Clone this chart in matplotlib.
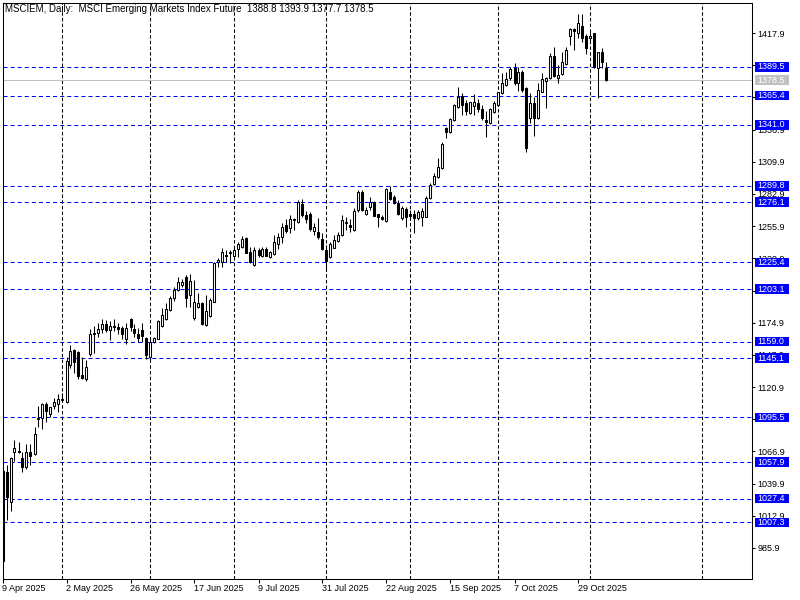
"""
Daily candlestick chart of the MSCI Emerging Markets Index Future,
drawn in the MetaTrader style (price scale on the right, level lines).
"""

import numpy as np
import matplotlib
matplotlib.use('Agg')
from matplotlib import pyplot as plt
from matplotlib.patches import Rectangle

matplotlib.rcParams['font.family'] = ['Liberation Sans', 'DejaVu Sans']
matplotlib.rcParams['lines.scale_dashes'] = False

# OHLC per daily bar, from 9 Apr 2025 on
opens = [1050.5, 1049.4, 1024.2, 1066.4, 1067.5, 1061.6, 1053.6, 1066.4, 1064.5, 1093.8,
         1094.7, 1106.7, 1098.0, 1105.3, 1106.7, 1110.5, 1108.6, 1139.1, 1151.7, 1150.5,
         1130.7, 1127.9, 1148.6, 1165.0, 1166.5, 1170.0, 1174.0, 1169.0, 1172.0, 1171.0,
         1170.2, 1160.9, 1177.7, 1169.6, 1165.6, 1168.7, 1161.8, 1146.3, 1158.9, 1161.4,
         1172.3, 1177.7, 1185.5, 1195.3, 1202.3, 1206.2, 1213.5, 1197.9, 1178.6, 1187.8,
         1191.1, 1172.9, 1180.5, 1192.5, 1225.5, 1226.0, 1231.5, 1233.0, 1231.1, 1236.7,
         1238.6, 1245.7, 1233.9, 1223.3, 1235.9, 1231.1, 1236.7, 1229.7, 1232.3, 1240.9,
         1247.0, 1256.6, 1254.0, 1261.0, 1259.6, 1274.4, 1265.2, 1265.8, 1252.1, 1250.7,
         1245.1, 1235.9, 1230.2, 1237.8, 1243.7, 1248.4, 1258.3, 1256.6, 1252.6, 1269.4,
         1284.8, 1265.8, 1271.6, 1276.4, 1265.8, 1263.3, 1260.2, 1284.5, 1280.1, 1275.6,
         1263.0, 1270.0, 1265.8, 1265.8, 1262.4, 1263.3, 1263.8, 1279.7, 1291.2, 1297.4,
         1304.4, 1338.0, 1335.1, 1344.9, 1356.1, 1365.3, 1359.4, 1350.5, 1356.9, 1358.9,
         1353.9, 1344.9, 1342.2, 1351.4, 1357.5, 1367.3, 1374.3, 1380.4, 1388.3, 1375.7,
         1385.4, 1371.5, 1346.3, 1358.9, 1346.3, 1368.7, 1377.6, 1380.4, 1398.6, 1379.9,
         1383.3, 1391.6, 1415.6, 1421.3, 1417.6, 1423.8, 1415.4, 1413.5, 1417.6, 1388.8,
         1401.7, 1388.8]
highs = [1051.0, 1055.5, 1062.0, 1076.5, 1074.8, 1066.4, 1073.1, 1073.1, 1087.1, 1104.7,
         1107.5, 1108.6, 1104.5, 1111.4, 1115.1, 1116.0, 1146.3, 1156.2, 1152.5, 1151.5,
         1145.8, 1143.6, 1170.0, 1172.0, 1175.0, 1178.0, 1177.0, 1176.0, 1178.0, 1175.0,
         1172.3, 1174.4, 1178.5, 1173.8, 1170.2, 1174.4, 1163.0, 1161.8, 1162.6, 1176.9,
         1186.9, 1191.1, 1197.3, 1204.6, 1213.5, 1211.5, 1214.5, 1215.7, 1210.7, 1199.5,
         1192.0, 1198.1, 1195.3, 1225.5, 1229.0, 1237.3, 1235.9, 1236.0, 1238.6, 1242.6,
         1247.6, 1246.5, 1238.6, 1238.6, 1237.3, 1238.6, 1238.6, 1235.3, 1248.4, 1249.9,
         1258.3, 1261.6, 1265.2, 1262.4, 1277.8, 1278.6, 1268.8, 1268.0, 1258.3, 1262.4,
         1249.9, 1240.0, 1242.8, 1248.4, 1251.2, 1265.2, 1263.8, 1261.6, 1270.8, 1286.2,
         1286.5, 1271.6, 1280.1, 1277.0, 1266.5, 1265.2, 1287.5, 1289.8, 1282.0, 1277.8,
         1272.8, 1271.6, 1269.4, 1269.4, 1269.4, 1270.8, 1281.1, 1292.3, 1300.2, 1312.8,
         1326.7, 1339.3, 1346.3, 1358.1, 1372.8, 1367.3, 1361.7, 1360.3, 1366.5, 1362.5,
         1357.5, 1352.5, 1354.7, 1360.9, 1368.7, 1384.1, 1385.4, 1389.6, 1392.5, 1389.6,
         1386.5, 1372.5, 1367.3, 1364.5, 1375.7, 1384.1, 1381.2, 1400.9, 1406.4, 1391.0,
         1402.2, 1406.4, 1421.8, 1421.8, 1433.6, 1433.6, 1416.8, 1418.5, 1418.2, 1402.2,
         1405.6, 1393.9]
lows = [973.9, 1009.4, 1017.2, 1059.1, 1065.8, 1049.9, 1052.5, 1055.2, 1063.5, 1087.6,
        1085.5, 1091.8, 1095.5, 1102.5, 1099.9, 1108.0, 1107.5, 1136.6, 1132.9, 1127.9,
        1127.9, 1126.0, 1147.0, 1149.2, 1162.6, 1166.0, 1167.0, 1160.0, 1168.0, 1165.0,
        1161.4, 1157.0, 1168.2, 1162.6, 1158.9, 1158.9, 1144.4, 1143.6, 1157.6, 1160.9,
        1171.5, 1177.0, 1184.9, 1193.3, 1201.5, 1204.6, 1188.3, 1188.3, 1177.5, 1187.0,
        1172.9, 1172.0, 1179.9, 1192.0, 1221.3, 1221.3, 1226.0, 1224.7, 1230.2, 1229.7,
        1237.3, 1233.1, 1225.0, 1222.4, 1230.2, 1229.7, 1230.5, 1228.9, 1231.5, 1236.7,
        1241.5, 1249.9, 1250.4, 1252.6, 1258.8, 1263.8, 1258.3, 1252.1, 1248.4, 1244.8,
        1235.9, 1219.7, 1228.9, 1237.3, 1242.8, 1247.5, 1252.6, 1251.2, 1252.1, 1268.0,
        1268.5, 1265.2, 1269.4, 1264.0, 1254.9, 1261.0, 1259.5, 1277.8, 1274.4, 1265.2,
        1261.0, 1255.4, 1261.0, 1249.9, 1261.0, 1256.0, 1263.3, 1278.9, 1290.4, 1296.5,
        1303.8, 1330.1, 1334.3, 1344.1, 1354.7, 1349.1, 1349.1, 1349.7, 1349.1, 1351.9,
        1344.9, 1330.9, 1341.3, 1350.5, 1356.9, 1366.5, 1373.7, 1378.5, 1374.3, 1369.2,
        1368.2, 1318.3, 1342.2, 1331.7, 1345.7, 1368.2, 1354.7, 1379.3, 1381.2, 1375.7,
        1382.7, 1391.0, 1407.8, 1403.6, 1414.0, 1410.1, 1400.0, 1409.3, 1388.8, 1363.6,
        1388.8, 1377.7]
closes = [975.0, 1028.4, 1061.1, 1069.8, 1066.8, 1053.6, 1066.1, 1062.8, 1081.2, 1094.9,
          1106.7, 1101.0, 1103.9, 1108.1, 1110.9, 1110.0, 1142.5, 1150.9, 1141.6, 1130.4,
          1128.7, 1137.5, 1165.4, 1166.5, 1170.0, 1174.0, 1169.0, 1172.0, 1171.0, 1170.0,
          1165.4, 1170.2, 1171.5, 1166.5, 1162.3, 1163.7, 1147.8, 1158.4, 1161.8, 1176.0,
          1181.3, 1186.1, 1195.6, 1202.3, 1209.0, 1209.0, 1195.3, 1209.9, 1192.5, 1191.1,
          1173.5, 1184.7, 1193.9, 1224.7, 1227.5, 1233.9, 1230.8, 1234.0, 1235.9, 1240.9,
          1244.8, 1233.6, 1225.5, 1235.9, 1231.7, 1236.7, 1231.1, 1234.2, 1242.3, 1247.0,
          1254.9, 1251.8, 1261.6, 1261.8, 1276.4, 1265.2, 1261.9, 1253.7, 1254.9, 1246.5,
          1236.7, 1226.9, 1240.9, 1244.3, 1248.4, 1261.0, 1259.1, 1254.9, 1268.6, 1284.8,
          1269.4, 1269.4, 1276.4, 1264.6, 1263.8, 1261.9, 1286.8, 1278.6, 1275.6, 1265.8,
          1270.8, 1263.8, 1264.6, 1263.0, 1268.0, 1268.8, 1279.2, 1290.4, 1298.2, 1305.2,
          1324.8, 1334.6, 1345.5, 1357.5, 1364.2, 1357.5, 1352.5, 1359.8, 1359.8, 1354.1,
          1346.3, 1343.5, 1353.9, 1358.9, 1368.2, 1375.7, 1379.3, 1387.7, 1375.7, 1385.4,
          1370.1, 1321.2, 1358.9, 1346.3, 1370.1, 1379.3, 1379.9, 1398.6, 1381.8, 1382.7,
          1393.3, 1403.6, 1421.3, 1419.6, 1426.0, 1414.0, 1405.6, 1415.6, 1389.6, 1401.7,
          1393.3, 1378.5]

# horizontal level lines drawn on the chart
levels = [1389.5, 1365.4, 1341.0, 1289.8, 1276.1, 1225.4, 1203.1, 1159.0,
          1145.1, 1095.5, 1057.9, 1027.4, 1007.3]
lastPrice = 1378.5

# price scale (labels that sit fully under a level box are left blank)
priceTicks = [985.9, 1012.9, 1039.9, 1066.9, 1093.9, 1120.9, 1147.9, 1174.9, 1201.9,
              1228.9, 1255.9, 1282.9, 1309.9, 1336.9, 1363.9, 1390.9, 1417.9]
hiddenTicks = [1093.9, 1201.9, 1363.9, 1390.9]

# time scale (bar index of each label)
dateBars = [0, 16, 32, 48, 64, 80, 96, 112, 128, 144]
dateLabels = ['9 Apr 2025', '2 May 2025', '26 May 2025', '17 Jun 2025', '9 Jul 2025',
              '31 Jul 2025', '22 Aug 2025', '15 Sep 2025', '7 Oct 2025', '29 Oct 2025']
# first bar of each month (May .. Dec), where the vertical grid goes
monthStartBars = [15, 37, 58, 81, 102, 124, 147, 175]

titleText = 'MSCIEM, Daily:  MSCI Emerging Markets Index Future  1388.8 1393.9 1377.7 1378.5'

fontSize = 6.5
lw = 0.75
levelColor = '#0000FF'
lastColor = '#C0C0C0'

fig = plt.figure(figsize=(8, 6), dpi=100, facecolor='w')
W, H = 800.0, 600.0
left, right, top, bottom = 2.5, 752.0, 3.0, 578.5
ax = fig.add_axes([left/W, 1 - bottom/H, (right-left)/W, (bottom-top)/H])

opens = np.array(opens)
highs = np.array(highs)
lows = np.array(lows)
closes = np.array(closes)
xvals = np.arange(len(opens))
bull = closes >= opens

# grid
for xg in monthStartBars:
    ax.axvline(xg - 0.1, color='k', lw=lw, ls=(0, (2.5, 1.6)), zorder=1)
for lev in levels:
    ax.axhline(lev, color=levelColor, lw=lw, ls=(0, (2.9, 2.2)), zorder=1.5)
ax.axhline(lastPrice, color=lastColor, lw=lw, zorder=1.4)

# candles
ax.vlines(xvals, lows, highs, color='k', lw=lw, zorder=3)
bodyBottom = np.minimum(opens, closes)
bodyHeight = np.maximum(np.abs(closes - opens), 0.3)
ax.bar(xvals[bull], bodyHeight[bull], bottom=bodyBottom[bull], width=0.5,
       fc='w', ec='k', lw=lw, zorder=4)
ax.bar(xvals[~bull], bodyHeight[~bull], bottom=bodyBottom[~bull], width=0.5,
       fc='k', ec='k', lw=lw, zorder=4)

ax.set_xlim(0, (right - left) / 4.0)
ax.set_ylim(960.3, 1443.1)

# axes styling
for sp in ax.spines.values():
    sp.set_linewidth(lw)
    sp.set_color('k')
ax.yaxis.tick_right()
ax.set_yticks(priceTicks)
ax.set_yticklabels(['' if t in hiddenTicks else '{:.1f}'.format(t) for t in priceTicks])
ax.tick_params(axis='y', direction='out', length=2.5, width=lw, pad=1.5,
               labelsize=fontSize, right=True, left=False)
ax.set_xticks(dateBars)
ax.set_xticklabels(dateLabels, ha='left')
ax.tick_params(axis='x', direction='out', length=3, width=lw, pad=1,
               labelsize=fontSize)

# price boxes on the scale
axW = right - left
boxLeft = 1 + 3.0 / axW
boxWidth = 34.0 / axW
pxPerPrice = (bottom - top) / (1443.1 - 960.3)
boxHalf = 4.8 / pxPerPrice
ytrans = ax.get_yaxis_transform()
for lev, col in [(lv, levelColor) for lv in levels] + [(lastPrice, lastColor)]:
    ax.add_patch(Rectangle((boxLeft, lev - boxHalf), boxWidth, 2 * boxHalf,
                           transform=ytrans, fc=col, ec='none', clip_on=False, zorder=5))
    ax.text(boxLeft + 2.0 / axW, lev, '{:.1f}'.format(lev), transform=ytrans,
            color='w', fontsize=fontSize, va='center', ha='left', clip_on=False, zorder=6)

fig.text(5/W, 1 - 9.5/H, titleText, fontsize=7, va='center', ha='left')

fig.savefig('out.png', dpi=100, facecolor='w')
